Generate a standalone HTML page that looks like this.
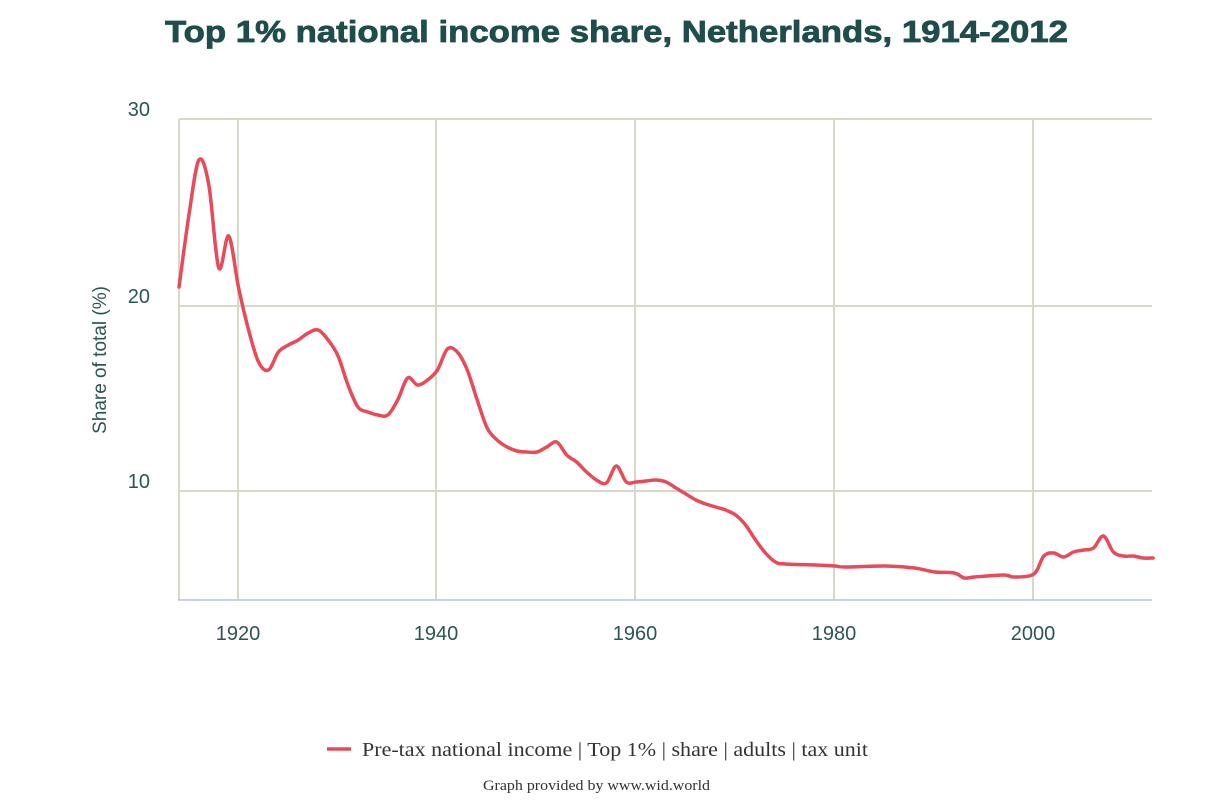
<!DOCTYPE html>
<html><head><meta charset="utf-8"><style>
body{margin:0;background:#fff;width:1232px;height:800px;overflow:hidden}
</style></head><body>
<svg width="1232" height="800" xmlns="http://www.w3.org/2000/svg">
<text x="165" y="42" textLength="903" lengthAdjust="spacingAndGlyphs" font-family="Liberation Sans, sans-serif" font-weight="bold" font-size="31" fill="#1e4d4b" stroke="#1e4d4b" stroke-width="0.8">Top 1% national income share, Netherlands, 1914-2012</text>
<g stroke="#d8d8c8" stroke-width="2">
<line x1="179" y1="119" x2="1152" y2="119"/>
<line x1="179" y1="306" x2="1152" y2="306"/>
<line x1="179" y1="491" x2="1152" y2="491"/>
<line x1="179" y1="119" x2="179" y2="600"/>
<line x1="238" y1="119" x2="238" y2="600"/>
<line x1="436" y1="119" x2="436" y2="600"/>
<line x1="635" y1="119" x2="635" y2="600"/>
<line x1="834" y1="119" x2="834" y2="600"/>
<line x1="1033" y1="119" x2="1033" y2="600"/>
</g>
<line x1="178" y1="600" x2="1152" y2="600" stroke="#b8c4d4" stroke-width="1.5"/>
<g font-family="Liberation Sans, sans-serif" font-size="20" fill="#2b5652">
<text x="150" y="116" text-anchor="end">30</text>
<text x="150" y="303" text-anchor="end">20</text>
<text x="150" y="488" text-anchor="end">10</text>
<text x="238" y="640" text-anchor="middle">1920</text>
<text x="436" y="640" text-anchor="middle">1940</text>
<text x="635" y="640" text-anchor="middle">1960</text>
<text x="834" y="640" text-anchor="middle">1980</text>
<text x="1033" y="640" text-anchor="middle">2000</text>
<text transform="translate(106,360) rotate(-90)" text-anchor="middle" font-size="19">Share of total (%)</text>
</g>
<path id="c" fill="none" stroke="#e84a5a" stroke-width="3.5" stroke-linejoin="round" stroke-linecap="round"/>
<line x1="327" y1="749" x2="351" y2="749" stroke="#e84a5a" stroke-width="3.5"/>
<text x="362" y="756" textLength="506" lengthAdjust="spacingAndGlyphs" font-family="Liberation Serif, serif" font-size="20" fill="#333">Pre-tax national income | Top 1% | share | adults | tax unit</text>
<text x="483" y="790" textLength="227" lengthAdjust="spacingAndGlyphs" font-family="Liberation Serif, serif" font-size="15" fill="#333">Graph provided by www.wid.world</text>
</svg>
<script>
var d=[[1914,287],[1915,215],[1916,160],[1917,185],[1918,268],[1919,236],[1920,288],[1921,330],[1922,362],[1923,370],[1924,352],[1925,345],[1926,340],[1927,333],[1928,330],[1929,340],[1930,356],[1931,385],[1932,407],[1933,412],[1934,415],[1935,415],[1936,400],[1937,378],[1938,385],[1939,380],[1940,370],[1941,349],[1942,352],[1943,370],[1944,400],[1945,428],[1946,440],[1947,447],[1948,451],[1949,452],[1950,452],[1951,447],[1952,442],[1953,455],[1954,462],[1955,472],[1956,480],[1957,483],[1958,466],[1959,482],[1960,482],[1961,481],[1962,480],[1963,482],[1964,488],[1965,494],[1966,500],[1967,504],[1968,507],[1969,510],[1970,515],[1971,525],[1972,540],[1973,553],[1974,562],[1975,564],[1978,565],[1980,566],[1981,567],[1985,566],[1988,568],[1990,572],[1992,573],[1993,578],[1994,577],[1997,575],[1998,577],[2000,574],[2001,556],[2002,553],[2003,557],[2004,552],[2005,550],[2006,548],[2007,536],[2008,552],[2009,556],[2010,556],[2011,558],[2012,558]];
var p=d.map(function(a){return[179+(a[0]-1914)*9.94,a[1]]});
var s="M"+p[0][0]+","+p[0][1];
for(var i=0;i<p.length-1;i++){var a=p[i-1]||p[i],b=p[i],c=p[i+1],e=p[i+2]||c;
s+=" C"+(b[0]+(c[0]-a[0])/6)+","+(b[1]+(c[1]-a[1])/6)+" "+(c[0]-(e[0]-b[0])/6)+","+(c[1]-(e[1]-b[1])/6)+" "+c[0]+","+c[1];}
document.getElementById("c").setAttribute("d",s);
</script>
</body></html>
